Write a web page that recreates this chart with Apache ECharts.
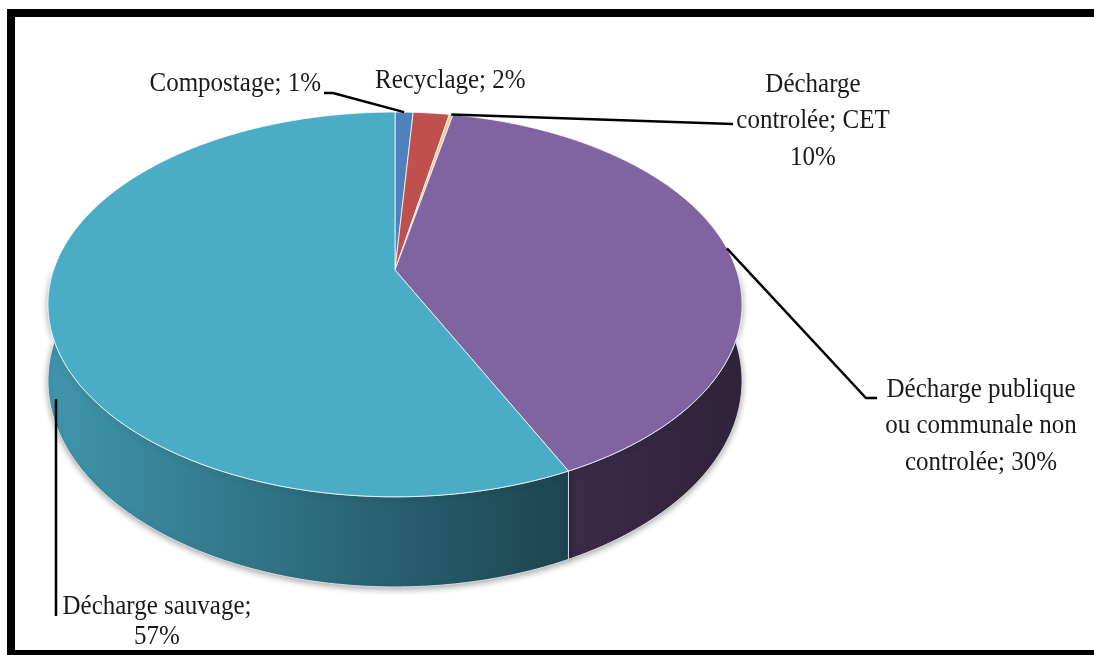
<!DOCTYPE html>
<html><head><meta charset="utf-8">
<script src="https://cdn.jsdelivr.net/npm/echarts@6/dist/echarts.min.js"></script>
<style>html,body{margin:0;padding:0;background:#fff}#c{width:1094px;height:655px}</style>
</head><body><div id="c"></div>
<script>
// ---- data ----
const categories = ['Compostage', 'Recyclage', 'Décharge\ncontrolée; CET', 'Décharge publique\nou communale non\ncontrolée', 'Décharge sauvage'];
const labelSeparators = ['; ', '; ', '\n', '; ', ';\n'];
const labelPercents = [1, 2, 10, 30, 57];          // percentages printed in the labels
const sliceValues = [1, 2, 0.2, 39.8, 57];          // slice sizes as drawn in the picture
const topColors = ['#4F81BD', '#C0504D', '#F2C796', '#8064A2', '#4BACC6'];
const wallColors = [['#3A6391', '#2B4A6E'], ['#93403D', '#6E2F2D'], ['#B8956E', '#8F7254'], ['#3B2B48', '#30233B'], ['#3F95AC', '#1C4550']];

// ---- layout (positions only) ----
const P = { cx: 395, cy: 270, A: 341.4, B: 186.2, k: 0.179, D: 74 };
const labelLayout = [
  { x: 321, y: 84, align: 'right', lh: 34, leader: [[333, 93], [324, 93]] },
  { x: 375, y: 81, align: 'left', lh: 34, leader: null },
  { x: 813, y: 121, align: 'center', lh: 33, leader: [[733, 124]] },
  { x: 981, y: 426, align: 'center', lh: 33, leader: [[866, 398], [877, 398]] },
  { x: 157, y: 622, align: 'center', lh: 27.5, leader: 'vertical' }
];
const textScaleY = 1.1;

function proj(theta, bottom) {
  const u = Math.sin(theta), v = -Math.cos(theta);
  const w = 1 - P.k * v;
  const x = P.cx + P.A * u / w;
  let y = P.cy + P.B * v / w;
  if (bottom) y += P.D / w;
  return [x, y];
}
function arc(a0, a1, bottom) {
  const n = Math.max(2, Math.ceil((a1 - a0) / (2 * Math.PI) * 720));
  const pts = [];
  for (let i = 0; i <= n; i++) pts.push(proj(a0 + (a1 - a0) * i / n, bottom));
  return pts;
}

const total = sliceValues.reduce((a, b) => a + b, 0);
const chart = echarts.init(document.getElementById('c'), null, { renderer: 'canvas' });
const font = 'Liberation Serif, Times New Roman, serif';

chart.setOption({
  animation: false,
  backgroundColor: '#ffffff',
  graphic: [{
    type: 'rect', shape: { x: 11, y: 13, width: 1100, height: 641 },
    style: { fill: null, stroke: '#000', lineWidth: 8 }, z: 100
  }],
  series: [{
    type: 'custom',
    coordinateSystem: 'none',
    data: sliceValues.map((v, i) => ({ name: categories[i], value: v })),
    renderItem: function (params, api) {
      const i = params.dataIndex;
      let start = 0;
      for (let j = 0; j < i; j++) start += sliceValues[j];
      const val = api.value(0);
      const a0 = start / total * 2 * Math.PI;
      const a1 = (start + val) / total * 2 * Math.PI;
      const children = [];
      // outer wall (front part only)
      const w0 = Math.max(a0, Math.PI / 2), w1 = Math.min(a1, 3 * Math.PI / 2);
      if (w1 > w0) {
        const topArc = arc(w0, w1, false);
        const botArc = arc(w0, w1, true).reverse();
        const xs = topArc.map(p => p[0]);
        const xmin = Math.min.apply(null, xs), xmax = Math.max.apply(null, xs);
        children.push({
          type: 'polygon', z2: 1,
          shape: { points: topArc.concat(botArc) },
          style: {
            fill: new echarts.graphic.LinearGradient(xmin, 0, xmax, 0, [
              { offset: 0, color: wallColors[i][0] }, { offset: 1, color: wallColors[i][1] }
            ], true),
            stroke: 'rgba(230,235,245,0.85)', lineWidth: 1,
            shadowBlur: 6, shadowColor: 'rgba(0,0,0,0.35)', shadowOffsetY: 2
          }
        });
      }
      // top face
      const topPts = [[P.cx, P.cy]].concat(arc(a0, a1, false));
      children.push({
        type: 'polygon', z2: 10,
        shape: { points: topPts },
        style: { fill: topColors[i], stroke: 'rgba(255,255,255,0.75)', lineWidth: 1 }
      });
      // label
      const L = labelLayout[i];
      children.push({
        type: 'text', z2: 30,
        x: L.x, y: L.y, scaleY: textScaleY,
        style: {
          text: categories[i].replace(/\n$/, '') + labelSeparators[i] + labelPercents[i] + '%',
          x: 0, y: 0, align: L.align, verticalAlign: 'middle',
          fontFamily: font, fontSize: 25, lineHeight: L.lh, fill: '#1a1a1a'
        }
      });
      // leader line
      const mid = (a0 + a1) / 2;
      if (L.leader === 'vertical') {
        const b = proj(mid, true);
        const lx = 56;
        children.push({
          type: 'polyline', z2: 20,
          shape: { points: [[lx, b[1] + 10], [lx, 616]] },
          style: { stroke: '#000', lineWidth: 2.5, fill: null }
        });
      } else if (L.leader) {
        const anchor = proj(mid, false);
        children.push({
          type: 'polyline', z2: 20,
          shape: { points: [anchor].concat(L.leader) },
          style: { stroke: '#000', lineWidth: 2.5, fill: null }
        });
      }
      return { type: 'group', children: children };
    }
  }]
});
</script></body></html>
